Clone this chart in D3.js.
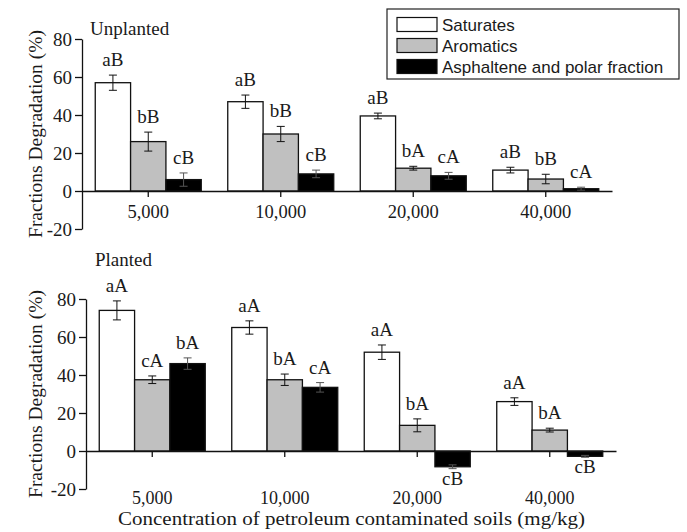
<!DOCTYPE html>
<html>
<head>
<meta charset="utf-8">
<script src="https://cdn.jsdelivr.net/npm/d3@7"></script>
<style>
  body { margin: 0; background: #fff; }
  svg text { fill: #1a1a1a; }
  .serif { font-family: "Liberation Serif", "Times New Roman", serif; }
  .sans { font-family: "Liberation Sans", Arial, sans-serif; }
</style>
</head>
<body>
<div id="chart"></div>
<script>
// Grouped bars with error bars: two panels (unplanted / planted)
const concentrations = ['5,000', '10,000', '20,000', '40,000'];
const fractions = ['Saturates', 'Aromatics', 'Asphaltene and polar fraction'];
const fractionFill = ['#ffffff', '#c0c0c0', '#000000'];
const yTicks = [-20, 0, 20, 40, 60, 80];

// values per concentration: [saturates, aromatics, asphaltene]
const unplantedValues = [[57, 26, 6], [47, 30, 9], [39.5, 12, 8], [11, 6.3, 1.2]];
const unplantedErrors = [[4, 5, 3.5], [3.5, 4, 2], [1.5, 1, 1.8], [1.5, 2.5, 0.8]];
const unplantedLetters = [['aB', 'bB', 'cB'], ['aB', 'bB', 'cB'], ['aB', 'bA', 'cA'], ['aB', 'bB', 'cA']];

const plantedValues = [[74, 37.5, 46], [65, 37.5, 33.5], [52, 13.5, -8.3], [26, 11, -2.8]];
const plantedErrors = [[5, 2, 3], [3.5, 3, 2.5], [3.8, 3.4, 1], [2, 1, 0.5]];
const plantedLetters = [['aA', 'cA', 'bA'], ['aA', 'bA', 'cA'], ['aA', 'bA', 'cB'], ['aA', 'bA', 'cB']];

const width = 687, height = 532;
const serif = '"Liberation Serif", "Times New Roman", serif';

const svg = d3.select('#chart').append('svg')
  .attr('width', width)
  .attr('height', height);

function drawPanel(opts) {
  const { values, errors, letters, left, right, top, bottom, title, titleX, titleY, tickLabelY, tickFont, axisTitleX } = opts;

  const x = d3.scaleBand().domain(concentrations).range([left, right])
    .paddingInner(0.2).paddingOuter(0.1);
  const xSub = d3.scaleBand().domain(fractions).range([0, x.bandwidth()]).padding(0);
  const y = d3.scaleLinear().domain([-20, 80]).range([bottom, top]);

  const rows = [];
  concentrations.forEach((c, i) => {
    fractions.forEach((f, j) => {
      rows.push({ c, f, j, v: values[i][j], e: errors[i][j], lab: letters[i][j] });
    });
  });

  const g = svg.append('g');

  // bars
  g.selectAll('rect.bar')
    .data(rows)
    .join('rect')
    .attr('class', 'bar')
    .attr('x', d => x(d.c) + xSub(d.f))
    .attr('y', d => y(Math.max(0, d.v)))
    .attr('width', xSub.bandwidth())
    .attr('height', d => Math.abs(y(d.v) - y(0)))
    .attr('fill', d => fractionFill[d.j])
    .attr('stroke', '#111')
    .attr('stroke-width', 1.3);

  // error bars
  const cx = d => x(d.c) + xSub(d.f) + xSub.bandwidth() / 2;
  const eb = g.selectAll('g.err').data(rows).join('g').attr('class', 'err')
    .attr('stroke', d => d.j === 2 ? '#555' : '#111')
    .attr('stroke-width', 1);
  eb.append('line')
    .attr('x1', cx).attr('x2', cx)
    .attr('y1', d => y(d.v + d.e)).attr('y2', d => y(d.v - d.e));
  eb.append('line')
    .attr('x1', d => cx(d) - 4).attr('x2', d => cx(d) + 4)
    .attr('y1', d => y(d.v + d.e)).attr('y2', d => y(d.v + d.e));
  eb.append('line')
    .attr('x1', d => cx(d) - 4).attr('x2', d => cx(d) + 4)
    .attr('y1', d => y(d.v - d.e)).attr('y2', d => y(d.v - d.e));

  // significance letters
  g.selectAll('text.letter')
    .data(rows)
    .join('text')
    .attr('class', 'letter serif')
    .attr('x', cx)
    .attr('y', d => d.v >= 0 ? y(d.v + d.e) - 9 : y(d.v - d.e) + 16)
    .attr('text-anchor', 'middle')
    .style('font-size', '19px')
    .text(d => d.lab);

  // y axis (plain hyphen for negatives, like the original)
  const yAxis = g.append('g')
    .attr('transform', `translate(${left},0)`)
    .call(d3.axisLeft(y).tickValues(yTicks).tickFormat(d => String(d))
      .tickSize(7).tickSizeOuter(0).tickPadding(3));
  yAxis.attr('font-family', serif).attr('font-size', 19);
  yAxis.selectAll('path, line').attr('stroke', '#111').attr('stroke-width', 1.3);
  yAxis.selectAll('text')
    .style('font-family', serif)
    .style('font-size', '19px')
    .attr('fill', '#1a1a1a');

  // x axis along zero
  const xAxis = g.append('g')
    .attr('transform', `translate(0,${y(0)})`)
    .call(d3.axisBottom(x).tickSize(6).tickSizeOuter(0));
  xAxis.attr('font-family', serif).attr('font-size', 19);
  xAxis.select('.domain').attr('stroke', '#111').attr('stroke-width', 1.3);
  xAxis.selectAll('line').attr('stroke', '#111').attr('stroke-width', 1.3);
  xAxis.selectAll('text')
    .attr('y', tickLabelY - y(0))
    .attr('dy', 0)
    .style('font-family', serif)
    .style('font-size', tickFont + 'px')
    .attr('fill', '#1a1a1a');

  // panel title
  g.append('text')
    .attr('class', 'serif')
    .attr('x', titleX)
    .attr('y', titleY)
    .style('font-size', '19px')
    .text(title);

  // y axis title
  g.append('text')
    .attr('class', 'serif')
    .attr('transform', `translate(${axisTitleX},${(top + bottom) / 2}) rotate(-90)`)
    .attr('text-anchor', 'middle')
    .style('font-size', '19.5px')
    .text('Fractions Degradation (%)');
}

drawPanel({
  values: unplantedValues, errors: unplantedErrors, letters: unplantedLetters,
  left: 82, right: 612, top: 39, bottom: 229,
  title: 'Unplanted', titleX: 90, titleY: 35, tickLabelY: 218, tickFont: 18.5, axisTitleX: 42
});

drawPanel({
  values: plantedValues, errors: plantedErrors, letters: plantedLetters,
  left: 86, right: 616, top: 299, bottom: 489,
  title: 'Planted', titleX: 95, titleY: 266, tickLabelY: 504, tickFont: 18, axisTitleX: 42
});

// x axis title, stretched to the width it has in the original
svg.append('text')
  .attr('class', 'serif')
  .attr('x', 118)
  .attr('y', 525)
  .attr('textLength', 467)
  .attr('lengthAdjust', 'spacingAndGlyphs')
  .style('font-size', '18.5px')
  .text('Concentration of petroleum contaminated soils (mg/kg)');

// legend
const legend = svg.append('g').attr('class', 'legend');
legend.append('rect')
  .attr('x', 387).attr('y', 9)
  .attr('width', 292).attr('height', 70)
  .attr('fill', '#fff')
  .attr('stroke', '#222')
  .attr('stroke-width', 1.2);

const legendRow = d3.scaleBand().domain(fractions).range([14, 77]);
const items = legend.selectAll('g.item').data(fractions).join('g')
  .attr('class', 'item')
  .attr('transform', d => `translate(397,${legendRow(d) + legendRow.bandwidth() / 2})`);
items.append('rect')
  .attr('x', 0).attr('y', -7)
  .attr('width', 40).attr('height', 14)
  .attr('fill', (d, i) => fractionFill[i])
  .attr('stroke', '#111')
  .attr('stroke-width', 1.2);
items.append('text')
  .attr('class', 'sans')
  .attr('x', 45)
  .attr('y', 6)
  .style('font-size', '17px')
  .text(d => d);
</script>
</body>
</html>
